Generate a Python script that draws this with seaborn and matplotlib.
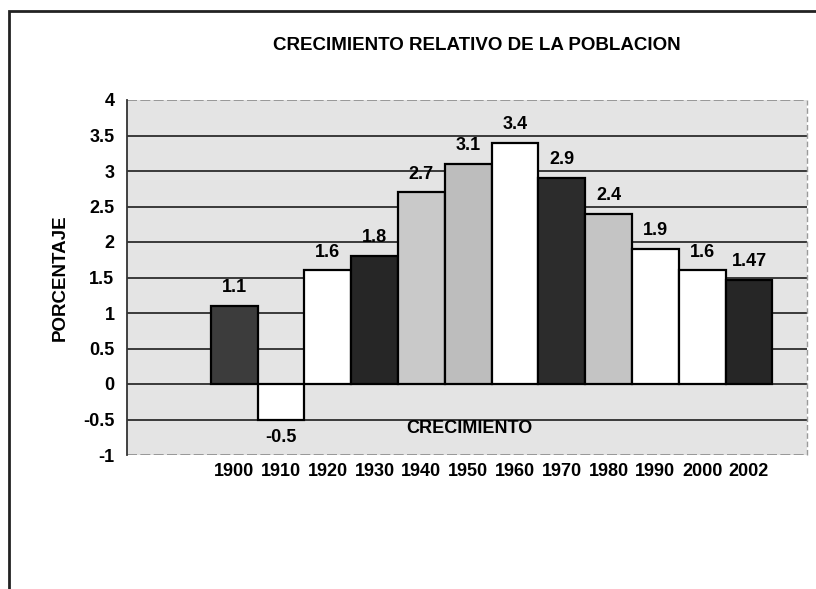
import numpy as np
import pandas as pd
import matplotlib
matplotlib.use("Agg")
import matplotlib.pyplot as plt
import matplotlib.patches as mpatches
import seaborn as sns

# DATOS

anios = ["1900", "1910", "1920", "1930", "1940", "1950",
         "1960", "1970", "1980", "1990", "2000", "2002"]
crecimiento = [1.1, -0.5, 1.6, 1.8, 2.7, 3.1, 3.4, 2.9, 2.4, 1.9, 1.6, 1.47]
etiquetas = ["1.1", "-0.5", "1.6", "1.8", "2.7", "3.1",
             "3.4", "2.9", "2.4", "1.9", "1.6", "1.47"]
colores = ["#3c3c3c", "#ffffff", "#ffffff", "#262626", "#c9c9c9", "#bdbdbd",
           "#ffffff", "#2c2c2c", "#c4c4c4", "#ffffff", "#ffffff", "#262626"]
yticks = [-1, -0.5, 0, 0.5, 1, 1.5, 2, 2.5, 3, 3.5, 4]

df = pd.DataFrame({"anio": anios, "valor": crecimiento})

# ESTILO

sns.set_style("white")
plt.rcParams["font.family"] = ["Liberation Sans", "DejaVu Sans"]
plt.rcParams["font.weight"] = "bold"
plt.rcParams["text.color"] = "black"
plt.rcParams["axes.labelcolor"] = "black"
plt.rcParams["xtick.color"] = "black"
plt.rcParams["ytick.color"] = "black"

fig = plt.figure(figsize=(8.16, 5.89), dpi=100)
ax = fig.add_axes([127 / 816, 1 - 455 / 589, 680 / 816, 355 / 589])
ax.set_facecolor("#e4e4e4")

# GRAFICO

sns.barplot(
    data=df,
    x="anio",
    y="valor",
    hue="anio",
    palette=colores,
    legend=False,
    width=1.0,
    edgecolor="black",
    linewidth=1.6,
    ax=ax,
    zorder=3
)

ax.set_xlim(-2.29, 12.24)
ax.set_ylim(-1, 4)

# lineas de division
for v in yticks:
    if v in (-1, 4):
        ax.axhline(v, color="#8a8a8a", linewidth=1.2, linestyle=(0, (6, 2)), zorder=1)
    else:
        ax.axhline(v, color="#3a3a3a", linewidth=1.4, zorder=1)

for s in ["top", "bottom", "right"]:
    ax.spines[s].set_visible(False)
ax.spines["left"].set_color("#333333")
ax.spines["left"].set_linewidth(1.3)
ax.plot([1, 1], [0, 1], transform=ax.transAxes, color="#9a9a9a",
        linewidth=1.0, linestyle=(0, (4, 2)), clip_on=False)

ax.set_yticks(yticks)
ax.set_yticklabels([f"{v:g}" for v in yticks], fontsize=13, fontweight="bold")
ax.tick_params(axis="y", direction="out", length=6, width=1.2, color="#333333", pad=3)
ax.tick_params(axis="x", length=0, pad=6)
ax.set_xticks(range(len(anios)))
ax.set_xticklabels(anios, fontsize=13, fontweight="bold")
ax.set_xlabel("")
ax.set_ylabel("PORCENTAJE", fontsize=13.5, fontweight="bold", labelpad=10)

# etiquetas de valores
for i, (v, t) in enumerate(zip(crecimiento, etiquetas)):
    if v >= 0:
        ax.annotate(t, (i, v), xytext=(0, 7), textcoords="offset points",
                    ha="center", va="bottom", fontsize=13, fontweight="bold")
    else:
        ax.annotate(t, (i, v), xytext=(0, -7), textcoords="offset points",
                    ha="center", va="top", fontsize=13, fontweight="bold")

ax.text(0.504, 0.076, "CRECIMIENTO", transform=ax.transAxes, ha="center",
        va="center", fontsize=13, fontweight="bold", zorder=4)

fig.text(477 / 816, 1 - 45 / 589, "CRECIMIENTO RELATIVO DE LA POBLACION",
         ha="center", va="center", fontsize=13.5, fontweight="bold")

# marco exterior
marco = mpatches.Rectangle((9 / 816, -0.2), 1.2, 1.2 - 11 / 589,
                           transform=fig.transFigure, fill=False,
                           edgecolor="#222222", linewidth=2, clip_on=False)
fig.patches.append(marco)

plt.savefig("out.png", dpi=100)
